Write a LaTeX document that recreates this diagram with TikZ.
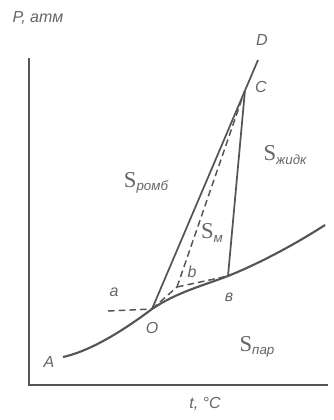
\documentclass[tikz,border=0pt]{standalone}
\usepackage{fontspec}
\setmainfont{Liberation Sans}
\newfontfamily\sfont{Liberation Serif}
\definecolor{ink}{HTML}{555555}
\definecolor{txt}{HTML}{666666}
\newcommand{\Sx}[1]{{\sfont\fontsize{17}{17}\selectfont S}\raisebox{-0.45ex}{\fontsize{10}{10}\selectfont\itshape #1}}
\begin{document}
\begin{tikzpicture}[x=0.75pt,y=-0.75pt,
  lbl/.style={text=txt,font=\fontsize{12}{12}\selectfont\itshape,inner sep=0pt},
  reg/.style={text=txt,inner sep=0pt},
  axis/.style={draw=ink,line width=1.1pt},
  solidl/.style={draw=ink,line width=1.3pt},
  curve/.style={draw=ink,line width=1.6pt},
  dashl/.style={draw=ink,line width=1.1pt,dash pattern=on 5pt off 3pt}]
\useasboundingbox (0,0) rectangle (334,420);
% axes
\coordinate (Ytop) at (29,58);
\coordinate (Orig) at (29,385);
\coordinate (Xend) at (328,385);
\draw[axis] (Ytop) -- (Orig) -- (Xend);
% key points
\coordinate (A0) at (63,357);
\coordinate (O) at (152,309);
\coordinate (B) at (228,276);
\coordinate (E) at (325,225);
\coordinate (C) at (245,90);
\coordinate (D) at (258,60);
\coordinate (Y) at (177,287);
\coordinate (a0) at (108,311);
% curve
\draw[curve] (A0) .. controls (95,350) and (132,324) .. (O)
  .. controls (177,292) and (205,285) .. (B)
  .. controls (258,264) and (294,245) .. (E);
% solid lines
\draw[solidl] (O) -- (D);
\draw[solidl] (B) -- (C);
% dashed lines
\draw[dashl] (a0) -- (O);
\draw[dashl] (O) -- (Y);
\draw[dashl] (Y) -- (B);
\draw[dashl] (Y) -- (C);
% labels
\node[lbl] (lP) at (38,18) {P, атм};
\node[lbl] (lt) at (205,404) {t, °C};
\node[lbl] (lD) at (262,40) {D};
\node[lbl] (lC) at (261,87) {C};
\node[lbl] (lb) at (192,272) {b};
\node[lbl] (la) at (114,292) {a};
\node[lbl] (lB) at (229,297) {в};
\node[lbl] (lO) at (152,328) {O};
\node[lbl] (lA) at (49,362) {A};
\node[reg] (s1) at (146,183) {\Sx{ромб}};
\node[reg] (s2) at (285,155) {\Sx{жидк}};
\node[reg] (s3) at (212,233) {\Sx{м}};
\node[reg] (s4) at (257,347) {\Sx{пар}};
\end{tikzpicture}
\end{document}
